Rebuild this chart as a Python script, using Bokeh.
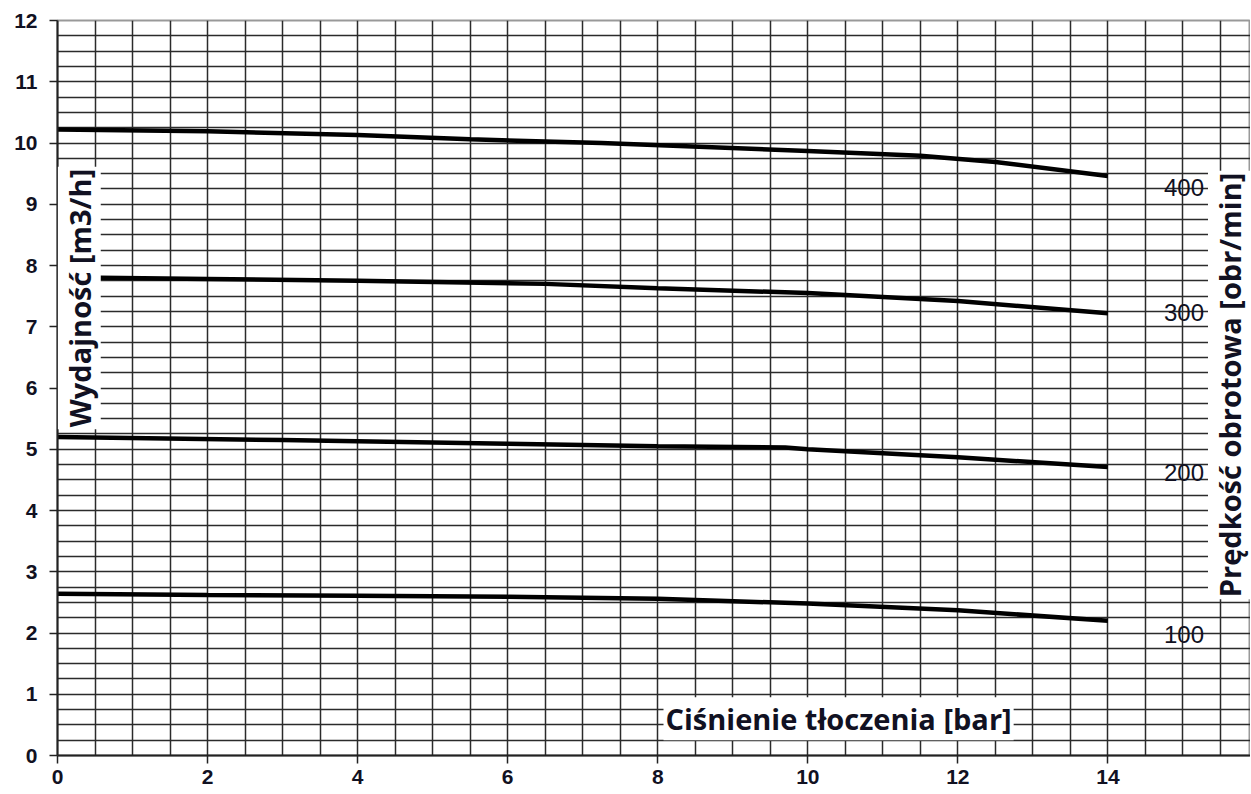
from bokeh.plotting import figure
from bokeh.models import Range1d, SingleIntervalTicker, FixedTicker, Label, ColumnDataSource
from bokeh.core.properties import value
from bokeh.embed import file_html
from bokeh.resources import INLINE

# Data
c1_x = [0, 2, 4, 5.5, 7.25, 10, 11.5, 12.5, 14]
c1_y = [10.22, 10.19, 10.13, 10.06, 10.0, 9.87, 9.79, 9.69, 9.46]
c2_x = [0, 2, 4, 6.5, 8, 10, 12, 14]
c2_y = [7.81, 7.78, 7.75, 7.70, 7.63, 7.55, 7.42, 7.22]
c3_x = [0, 3, 6, 8, 9.7, 10, 12, 14]
c3_y = [5.2, 5.15, 5.09, 5.05, 5.03, 5.0, 4.87, 4.71]
c4_x = [0, 2, 4, 6, 8, 10, 12, 14]
c4_y = [2.64, 2.62, 2.61, 2.59, 2.56, 2.48, 2.37, 2.2]

rpm_labels = ["400", "300", "200", "100"]
rpm_y = [9.28, 7.24, 4.62, 1.97]
rpm_x = [15.28, 15.28, 15.28, 15.28]

x_ticks = [0, 2, 4, 6, 8, 10, 12, 14]
y_ticks = list(range(0, 13))

x_title = "Ciśnienie tłoczenia [bar]"
y_title = "Wydajność [m3/h]"
y2_title = "Prędkość obrotowa [obr/min]"

p = figure(width=1250, height=792, output_backend="svg", toolbar_location=None,
           x_range=Range1d(0, 15.9), y_range=Range1d(0, 12),
           min_border_left=57, min_border_top=20, min_border_right=0, min_border_bottom=37)
p.background_fill_color = "white"
p.border_fill_color = "white"
p.outline_line_color = "#999999"
p.outline_line_width = 2

p.xaxis.ticker = FixedTicker(ticks=x_ticks)
p.yaxis.ticker = FixedTicker(ticks=y_ticks)
p.xgrid.ticker = SingleIntervalTicker(interval=0.5)
p.ygrid.ticker = SingleIntervalTicker(interval=0.25)
for g in (p.xgrid, p.ygrid):
    g.grid_line_color = "#2b2b2b"
    g.grid_line_width = 1.5
    g.grid_line_alpha = 1.0

for ax in (p.xaxis, p.yaxis):
    ax.axis_line_color = "#222222"
    ax.axis_line_width = 2
    ax.major_tick_line_color = "#222222"
    ax.major_tick_line_width = 1.5
    ax.major_tick_out = 8
    ax.major_tick_in = 0
    ax.minor_tick_line_color = None
    ax.major_label_text_font = "Liberation Sans"
    ax.major_label_text_font_style = "bold"
    ax.major_label_text_font_size = "21px"
    ax.major_label_text_color = "#111122"
p.xaxis.major_label_standoff = 6
p.yaxis.major_label_standoff = 12

for xs, ys in ((c1_x, c1_y), (c2_x, c2_y), (c3_x, c3_y), (c4_x, c4_y)):
    p.line(xs, ys, line_color="black", line_width=4.5)

src = ColumnDataSource(dict(x=rpm_x, y=rpm_y, t=rpm_labels))
p.text(x="x", y="y", text="t", source=src, text_align="right", text_baseline="middle",
       text_font=value("Liberation Sans"), text_font_size="24px", text_color="#111122")

common = dict(text_font="Open Sans", text_font_style="bold", text_font_size="29px",
              text_color="#111122", text_align="center", text_baseline="middle",
              background_fill_color="white", background_fill_alpha=1.0, padding=2)
p.add_layout(Label(x=10.41, y=0.6, text=x_title, **common))
p.add_layout(Label(x=0.29, y=7.47, text=y_title, angle=90, angle_units="deg", **common))
p.add_layout(Label(x=15.62, y=6.05, text=y2_title, angle=90, angle_units="deg", **common))

open("out.html", "w").write(file_html(p, INLINE))
